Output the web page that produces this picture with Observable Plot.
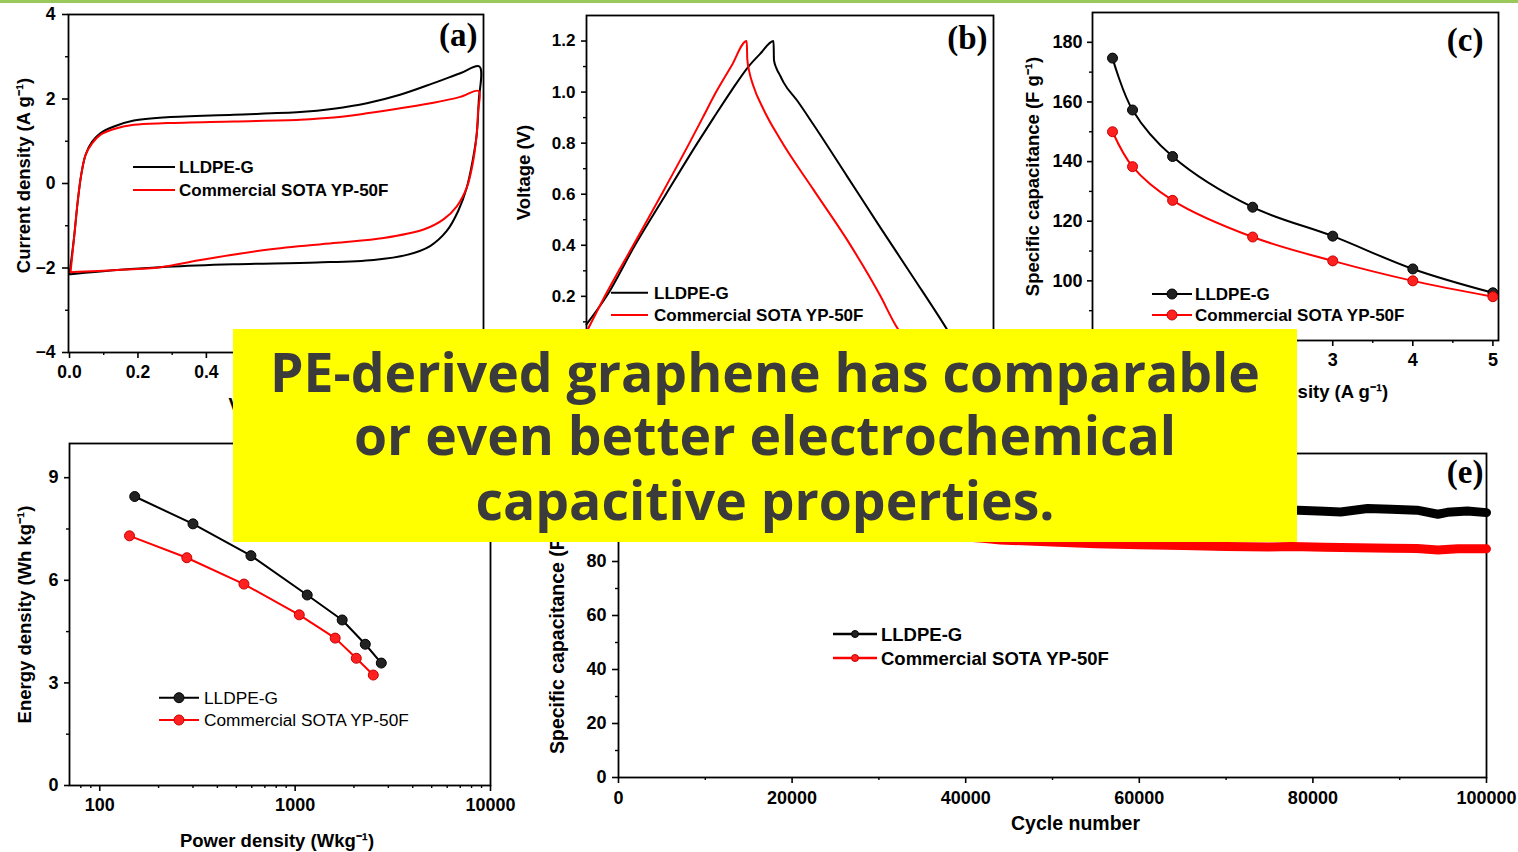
<!DOCTYPE html>
<html><head><meta charset="utf-8">
<script src="https://cdn.jsdelivr.net/npm/d3@7"></script>
<script src="https://cdn.jsdelivr.net/npm/@observablehq/plot@0.6"></script>
<style>
html,body{margin:0;padding:0;background:#fff;}
#root{position:relative;width:1518px;height:852px;overflow:hidden;background:#fff;}
.panel{position:absolute;}
.panel svg{overflow:visible;display:block;}
#topline{position:absolute;left:0;top:0;width:1518px;height:3px;background:#98c95a;}
#banner{position:absolute;left:233px;top:329px;width:1064px;height:213px;background:#ffff00;}
#banner text{font-variant-ligatures:none;}
</style></head><body>
<div id="root"><div id="topline"></div></div>
<script>
// ---------------- DATA ----------------
const seriesNames = ["LLDPE-G", "Commercial SOTA YP-50F"];

// (a) cyclic voltammetry: voltage (V) and current density (A g-1), one closed loop per material
const cvVoltageBlack = [0.000,0.014,0.024,0.034,0.047,0.066,0.090,0.130,0.188,0.285,0.480,0.674,0.772,0.869,0.966,1.064,1.142,1.198,1.196,1.190,1.178,1.161,1.136,1.102,1.054,0.986,0.889,0.723,0.480,0.285,0.139,0.003];
const cvCurrentBlack = [-2.15,-1.22,-0.42,0.20,0.68,0.99,1.19,1.35,1.49,1.57,1.63,1.69,1.77,1.90,2.10,2.375,2.61,2.77,1.94,1.15,0.53,-0.10,-0.65,-1.13,-1.48,-1.69,-1.81,-1.87,-1.91,-1.97,-2.05,-2.15];
const cvVoltageRed = [0.003,0.014,0.024,0.034,0.047,0.066,0.090,0.130,0.188,0.285,0.480,0.674,0.772,0.869,0.966,1.064,1.142,1.196,1.194,1.190,1.178,1.161,1.132,1.093,1.035,0.918,0.772,0.577,0.383,0.266,0.139,0.003];
const cvCurrentRed = [-2.10,-1.22,-0.42,0.20,0.68,0.95,1.15,1.29,1.39,1.43,1.47,1.51,1.56,1.66,1.78,1.91,2.05,2.19,1.70,1.15,0.45,-0.10,-0.54,-0.85,-1.09,-1.29,-1.41,-1.57,-1.81,-1.98,-2.05,-2.10];
const cvXTicks = [0.0,0.2,0.4];                 // labelled (visible)
const cvXTicksCovered = [0.6,0.8,1.0,1.2];      // under the banner: ticks only
const cvXMinor = [0.1,0.3,0.5,0.7,0.9,1.1];
const cvYTicks = [-4,-2,0,2,4];
const cvYTicksCovered = [];
const cvYMinor = [-3,-1,1,3];

// (b) galvanostatic charge/discharge: time (s) and voltage (V)
const gcdTimeBlack = [0,3.93,9.52,15.62,21.79,25.01,28.3,31.84,34.14,36.77,36.85,37.3,38.1,38.76,41.4,44.6,51.2,57.8,64.3,70.9,73.0];
const gcdVoltBlack = [0.09,0.2,0.4,0.6,0.8,0.9,1.0,1.1,1.15,1.2,1.125,1.095,1.063,1.037,0.967,0.873,0.671,0.468,0.272,0.069,0.0];
const gcdTimeRed = [0,3.6,9.19,14.77,20.22,22.85,25.47,28.43,31.5,31.6,32.0,32.8,34.8,38.1,44.6,51.2,57.8,60.7,62.3];
const gcdVoltRed = [0.06,0.2,0.4,0.6,0.8,0.9,1.0,1.1,1.2,1.13,1.08,1.024,0.932,0.814,0.618,0.422,0.2,0.089,0.04];
const gcdXTicks = [];
const gcdXTicksCovered = [0,20,40,60,80];
const gcdXMinor = [10,30,50,70];
const gcdYTicks = [0.2,0.4,0.6,0.8,1.0,1.2];
const gcdYTicksCovered = [0.0];
const gcdYMinor = [0.1,0.3,0.5,0.7,0.9,1.1];

// (c) rate capability: current density (A g-1) and specific capacitance (F g-1)
const rateCurrent = [0.25,0.5,1,2,3,4,5];
const rateCapBlack = [174.7,157.3,141.7,124.7,115,104,96];
const rateCapRed = [150,138.3,127,114.7,106.7,100,94.7];
const rateXTicks = [3,4,5];
const rateXTicksCovered = [0,1,2];
const rateXMinor = [0.5,1.5,2.5,3.5,4.5];
const rateYTicks = [100,120,140,160,180];
const rateYTicksCovered = [80];
const rateYMinor = [90,110,130,150,170];

// (d) Ragone plot: power density (W kg-1) and energy density (Wh kg-1)
const powerBlack = [151,300,594,1153,1741,2286,2761];
const energyBlack = [8.45,7.65,6.72,5.57,4.84,4.13,3.58];
const powerRed = [142,279,547,1050,1603,2056,2512];
const energyRed = [7.30,6.66,5.89,4.99,4.31,3.72,3.23];
const ragXTicks = [100,1000,10000];
const ragXTicksCovered = [];
const ragXMinor = [80,90,200,300,400,500,600,700,800,900,2000,3000,4000,5000,6000,7000,8000,9000];
const ragYTicks = [0,3,6,9];
const ragYTicksCovered = [];
const ragYMinor = [1.5,4.5,7.5];

// (e) cycling stability: cycle number and specific capacitance
const cycleBlack = [0,2500,5000,10000,20000,30000,40000,50000,60000,70000,75000,78300,81300,83200,86300,89000,92000,94400,95500,97800,100000];
const cycCapBlack = [96.0,97.5,98.3,99.0,99.3,99.2,99.4,99.1,99.3,99.0,99.1,99.0,98.6,98.35,99.6,99.35,99.0,97.5,98.2,98.7,98.1];
const cycleRed = [0,2500,5000,10000,15000,20000,25000,30000,35000,40000,42000,44000,50000,55000,60000,65000,70000,75000,77500,81300,85200,89000,92000,94400,96700,100000];
const cycCapRed = [94.5,93.6,93.0,92.0,91.3,90.8,90.4,90.0,89.6,89.1,88.6,88.0,87.2,86.6,86.2,85.9,85.6,85.4,85.6,85.3,85.1,84.95,84.8,84.3,84.7,84.7];
const cycXTicks = [0,20000,40000,60000,80000,100000];
const cycXTicksCovered = [];
const cycXMinor = [10000,30000,50000,70000,90000];
const cycYTicks = [0,20,40,60,80];
const cycYTicksCovered = [100,120];
const cycYMinor = [10,30,50,70,90,110];

const bannerLines = ["PE-derived graphene has comparable", "or even better electrochemical", "capacitive properties."];

// ---------------- RENDERING ----------------
const root = document.getElementById("root");
const FONT = "'Liberation Sans', Arial, Helvetica, sans-serif";
const SERIF = "'Liberation Serif', 'Times New Roman', serif";
const COLORS = ["#000000", "#ff0000"];
const DOT_STROKE = ["#000000", "#c80000"];
const DOT_FILL = ["#222222", "#ff2020"];

function mount(plot, left, top) {
  const wrap = document.createElement("div");
  wrap.className = "panel";
  wrap.style.left = left + "px";
  wrap.style.top = top + "px";
  wrap.appendChild(plot);
  root.appendChild(wrap);
  return plot;
}
function style(fs) {
  return {fontFamily: FONT, fontSize: fs + "px", fontWeight: "bold", background: "transparent", overflow: "visible", color: "#000"};
}
function axes({xT, xC, xM, yT, yC, yM, xF, yF, xTick = 6, xPad = 7, yTick = 6, yPad = 7}) {
  const m = [];
  if (xT.length) m.push(Plot.axisX({ticks: xT, tickSize: xTick, tickPadding: xPad, tickFormat: xF, label: null, strokeWidth: 1.6}));
  if (xC.length) m.push(Plot.axisX({ticks: xC, tickSize: xTick, tickFormat: () => "", label: null, strokeWidth: 1.6}));
  m.push(Plot.axisX({ticks: xM, tickSize: 3, tickFormat: () => "", label: null, strokeWidth: 1.4}));
  if (yT.length) m.push(Plot.axisY({ticks: yT, tickSize: yTick, tickPadding: yPad, tickFormat: yF, label: null, strokeWidth: 1.6}));
  if (yC.length) m.push(Plot.axisY({ticks: yC, tickSize: yTick, tickFormat: () => "", label: null, strokeWidth: 1.6}));
  m.push(Plot.axisY({ticks: yM, tickSize: 3, tickFormat: () => "", label: null, strokeWidth: 1.4}));
  return m;
}
function yTitle(t, dx, dy, fs = 18.5) {
  return Plot.text([t], {text: d => d, frameAnchor: "left", rotate: -90, dx, dy, textAnchor: "middle", lineAnchor: "middle", fontSize: fs, fontWeight: "bold", fill: "#000"});
}
function xTitle(t, dx, dy, fs = 18.5) {
  return Plot.text([t], {text: d => d, frameAnchor: "bottom", dx, dy, textAnchor: "middle", lineAnchor: "middle", fontSize: fs, fontWeight: "bold", fill: "#000"});
}
function tag(t, dx, dy) {
  return Plot.text([t], {text: d => d, frameAnchor: "top-right", dx, dy, textAnchor: "end", lineAnchor: "middle", fontFamily: SERIF, fontSize: 33, fontWeight: "bold", fill: "#000"});
}
function legend(svg, {x0, x1, xt, ys, fs, fw, r, sw = 2}) {
  const g = d3.select(svg).append("g").attr("font-family", FONT).attr("font-size", fs).attr("font-weight", fw).attr("text-anchor", "start");
  seriesNames.forEach((name, i) => {
    const y = ys[i];
    g.append("line").attr("x1", x0).attr("x2", x1).attr("y1", y).attr("y2", y).attr("stroke", COLORS[i]).attr("stroke-width", sw);
    if (r) g.append("circle").attr("cx", (x0 + x1) / 2).attr("cy", y).attr("r", r).attr("fill", DOT_FILL[i]).attr("stroke", DOT_STROKE[i]).attr("stroke-width", 1);
    g.append("text").attr("x", xt).attr("y", y).attr("dy", "0.36em").attr("text-anchor", "start").attr("fill", "#000").text(name);
  });
}
const f1 = d3.format(".1f"), fd = d3.format("d");

// (a)
const pa = mount(Plot.plot({
  width: 505, height: 420, marginLeft: 68, marginTop: 14, marginRight: 22, marginBottom: 68,
  x: {domain: [-0.003, 1.21]}, y: {domain: [-4, 4]},
  style: style(17.5),
  marks: [
    Plot.frame({stroke: "#000", strokeWidth: 1.8}),
    ...axes({xT: cvXTicks, xC: cvXTicksCovered, xM: cvXMinor, yT: cvYTicks, yC: cvYTicksCovered, yM: cvYMinor, xF: f1, yF: fd}),
    Plot.line(d3.zip(cvVoltageBlack, cvCurrentBlack), {x: d => d[0], y: d => d[1], stroke: COLORS[0], strokeWidth: 2, curve: "catmull-rom"}),
    Plot.line(d3.zip(cvVoltageRed, cvCurrentRed), {x: d => d[0], y: d => d[1], stroke: COLORS[1], strokeWidth: 2, curve: "catmull-rom"}),
    yTitle("Current density (A g⁻¹)", -44, -8),
    xTitle("Voltage (V)", 0, 53),
    tag("(a)", -6, 21)
  ]
}), 0, 0);
legend(pa, {x0: 133, x1: 175, xt: 179, ys: [167, 190], fs: 17, fw: "bold"});

// (b)
const pb = mount(Plot.plot({
  width: 500, height: 420, marginLeft: 81, marginTop: 15, marginRight: 12, marginBottom: 68,
  x: {domain: [0, 80]}, y: {domain: [-0.02, 1.3]},
  style: style(17),
  marks: [
    Plot.frame({stroke: "#000", strokeWidth: 1.8}),
    ...axes({xT: gcdXTicks, xC: gcdXTicksCovered, xM: gcdXMinor, yT: gcdYTicks, yC: gcdYTicksCovered, yM: gcdYMinor, xF: fd, yF: f1, yTick: 5, yPad: 6}),
    Plot.line(d3.zip(gcdTimeBlack, gcdVoltBlack), {x: d => d[0], y: d => d[1], stroke: COLORS[0], strokeWidth: 2, curve: "monotone-x"}),
    Plot.line(d3.zip(gcdTimeRed, gcdVoltRed), {x: d => d[0], y: d => d[1], stroke: COLORS[1], strokeWidth: 2, curve: "monotone-x"}),
    yTitle("Voltage (V)", -62, -11.5),
    tag("(b)", -6, 23)
  ]
}), 505, 0);
legend(pb, {x0: 106, x1: 143, xt: 149, ys: [292.7, 315], fs: 17, fw: "bold"});

// (c)
const pc = mount(Plot.plot({
  width: 513, height: 420, marginLeft: 87, marginTop: 12, marginRight: 20, marginBottom: 80,
  x: {domain: [0, 5.07]}, y: {domain: [80, 190]},
  style: style(18),
  marks: [
    Plot.frame({stroke: "#000", strokeWidth: 1.8}),
    ...axes({xT: rateXTicks, xC: rateXTicksCovered, xM: rateXMinor, yT: rateYTicks, yC: rateYTicksCovered, yM: rateYMinor, xF: fd, yF: fd, xPad: 7, yTick: 5, yPad: 5}),
    Plot.line(d3.zip(rateCurrent, rateCapBlack), {x: d => d[0], y: d => d[1], stroke: COLORS[0], strokeWidth: 2, curve: "catmull-rom"}),
    Plot.line(d3.zip(rateCurrent, rateCapRed), {x: d => d[0], y: d => d[1], stroke: COLORS[1], strokeWidth: 2, curve: "catmull-rom"}),
    Plot.dot(d3.zip(rateCurrent, rateCapBlack), {x: d => d[0], y: d => d[1], r: 5, fill: DOT_FILL[0], stroke: DOT_STROKE[0], strokeWidth: 1}),
    Plot.dot(d3.zip(rateCurrent, rateCapRed), {x: d => d[0], y: d => d[1], r: 5, fill: DOT_FILL[1], stroke: DOT_STROKE[1], strokeWidth: 1}),
    yTitle("Specific capacitance (F g⁻¹)", -59, 0),
    xTitle("Current density (A g⁻¹)", -5, 51.7),
    tag("(c)", -15, 28)
  ]
}), 1005, 0);
legend(pc, {x0: 147, x1: 187, xt: 190, ys: [294, 315], fs: 17, fw: "bold", r: 5});

// (d)
const pd = mount(Plot.plot({
  width: 530, height: 432, marginLeft: 69, marginTop: 23, marginRight: 40, marginBottom: 67,
  x: {type: "log", domain: [70, 10000]}, y: {domain: [0, 10]},
  style: style(18),
  marks: [
    Plot.frame({stroke: "#000", strokeWidth: 1.8}),
    ...axes({xT: ragXTicks, xC: ragXTicksCovered, xM: ragXMinor, yT: ragYTicks, yC: ragYTicksCovered, yM: ragYMinor, xF: fd, yF: fd, xPad: 7, yTick: 5, yPad: 6}),
    Plot.line(d3.zip(powerBlack, energyBlack), {x: d => d[0], y: d => d[1], stroke: COLORS[0], strokeWidth: 2}),
    Plot.line(d3.zip(powerRed, energyRed), {x: d => d[0], y: d => d[1], stroke: COLORS[1], strokeWidth: 2}),
    Plot.dot(d3.zip(powerBlack, energyBlack), {x: d => d[0], y: d => d[1], r: 5, fill: DOT_FILL[0], stroke: DOT_STROKE[0], strokeWidth: 1}),
    Plot.dot(d3.zip(powerRed, energyRed), {x: d => d[0], y: d => d[1], r: 5, fill: DOT_FILL[1], stroke: DOT_STROKE[1], strokeWidth: 1}),
    yTitle("Energy density (Wh kg⁻¹)", -44, 0),
    xTitle("Power density (Wkg⁻¹)", -3, 55.7)
  ]
}), 0, 420);
legend(pd, {x0: 159, x1: 199, xt: 204, ys: [277.7, 300], fs: 17.3, fw: "normal", r: 5});

// (e)
const pe = mount(Plot.plot({
  width: 988, height: 432, marginLeft: 88, marginTop: 33, marginRight: 32, marginBottom: 75,
  x: {domain: [0, 100000]}, y: {domain: [0, 120]},
  style: style(18),
  marks: [
    Plot.frame({stroke: "#000", strokeWidth: 1.8}),
    ...axes({xT: cycXTicks, xC: cycXTicksCovered, xM: cycXMinor, yT: cycYTicks, yC: cycYTicksCovered, yM: cycYMinor, xF: fd, yF: fd, xPad: 8, yTick: 6, yPad: 6}),
    Plot.line(d3.zip(cycleRed, cycCapRed), {x: d => d[0], y: d => d[1], stroke: COLORS[1], strokeWidth: 9}),
    Plot.line(d3.zip(cycleBlack, cycCapBlack), {x: d => d[0], y: d => d[1], stroke: COLORS[0], strokeWidth: 9}),
    yTitle("Specific capacitance (F g⁻¹)", -61, 12, 19.5),
    xTitle("Cycle number", 23, 46.5, 19.5),
    tag("(e)", -3, 18.7)
  ]
}), 530, 420);
legend(pe, {x0: 303, x1: 347, xt: 351, ys: [214, 238], fs: 18.5, fw: "bold", r: 3.5, sw: 2.5});

// Yellow banner with the headline
const banner = document.createElement("div");
banner.id = "banner";
root.appendChild(banner);
const bsvg = d3.select(banner).append("svg").attr("width", 1064).attr("height", 213);
const baselines = [62.7, 126, 191];
const bt = bsvg.selectAll("text").data(bannerLines).join("text")
  .attr("x", 532).attr("y", (d, i) => baselines[i])
  .attr("text-anchor", "middle")
  .attr("font-family", "'Open Sans', Lato, sans-serif")
  .attr("font-weight", 700)
  .attr("font-size", 50)
  .attr("fill", "#3b3b3b")
  .text(d => d);
const w0 = bt.node().getComputedTextLength();
if (w0 > 0) bt.attr("font-size", 50 * 990 / w0);
</script>
</body></html>
